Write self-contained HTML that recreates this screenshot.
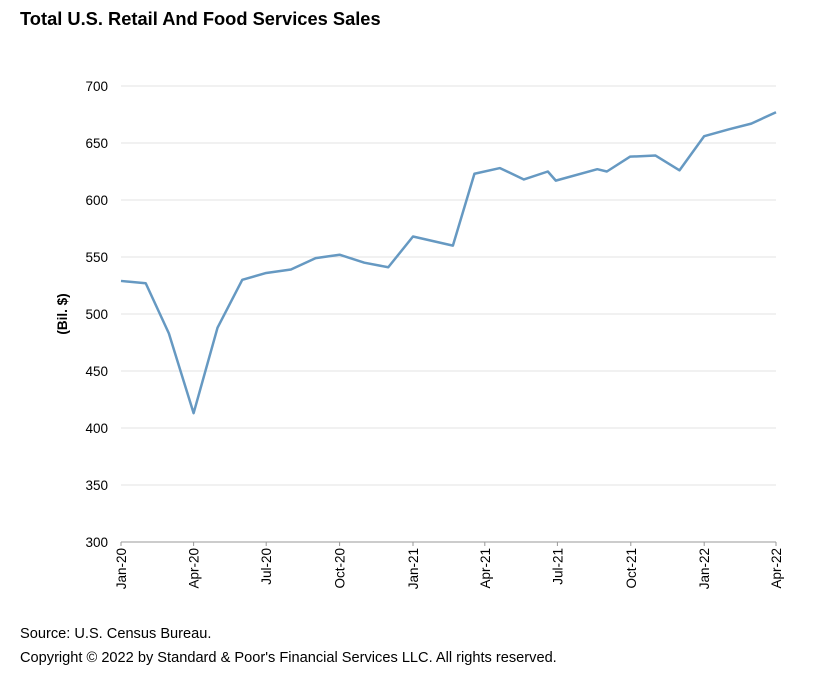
<!DOCTYPE html>
<html><head><meta charset="utf-8"><style>
body{margin:0;background:#fff;font-family:"Liberation Sans",Arial,sans-serif;}
svg{display:block}
</style></head><body>
<svg id="c" width="828" height="684">
<text x="20" y="25" font-size="18.3" font-weight="bold" fill="#000">Total U.S. Retail And Food Services Sales</text>
<text transform="translate(67,314) rotate(-90)" text-anchor="middle" font-size="13.5" font-weight="bold">(Bil. $)</text>
<g id="grid"></g><g id="ylab"></g><g id="xlab"></g><g id="series"></g>
<text x="20" y="638" font-size="14.6">Source: U.S. Census Bureau.</text>
<text x="20" y="662" font-size="14.6">Copyright © 2022 by Standard &amp; Poor's Financial Services LLC. All rights reserved.</text>
</svg>
<script>
const dates=["2020-01-01","2020-02-01","2020-03-01","2020-04-01","2020-05-01","2020-06-01","2020-07-01","2020-08-01","2020-09-01","2020-10-01","2020-11-01","2020-12-01","2021-01-01","2021-02-20","2021-03-19","2021-04-20","2021-05-20","2021-06-19","2021-06-29","2021-08-20","2021-09-01","2021-09-30","2021-11-01","2021-12-01","2022-01-01","2022-02-01","2022-03-01","2022-04-01"];
const sales=[529,527,483,413,488,530,536,539,549,552,545,541,568,560,623,628,618,625,617,627,625,638,639,626,656,662,667,677];
const yTicks=[300,350,400,450,500,550,600,650,700];
const xTickDates=["2020-01-01","2020-04-01","2020-07-01","2020-10-01","2021-01-01","2021-04-01","2021-07-01","2021-10-01","2022-01-01","2022-04-01"];
const xTickLabels=["Jan-20","Apr-20","Jul-20","Oct-20","Jan-21","Apr-21","Jul-21","Oct-21","Jan-22","Apr-22"];
const NS="http://www.w3.org/2000/svg";
const t0=Date.parse("2020-01-01"),t1=Date.parse("2022-04-01");
const X0=121,X1=776,Y0=542,Y1=86;
const xs=d=>X0+(Date.parse(d)-t0)/(t1-t0)*(X1-X0);
const ys=v=>Y0-(v-300)/400*(Y0-Y1);
function mk(tag,attrs,parent){const e=document.createElementNS(NS,tag);for(const k in attrs)e.setAttribute(k,attrs[k]);document.getElementById(parent).appendChild(e);return e;}
yTicks.forEach(v=>{
 const l=mk("line",{x1:X0,x2:X1,y1:ys(v),y2:ys(v),stroke:v===300?"#999":"#e3e3e3","stroke-width":1},"grid");
 
 
 const t=mk("text",{x:108,y:ys(v)+5,"text-anchor":"end","font-size":13.5},"ylab");
 t.textContent=v;
 
 
});
xTickDates.forEach((d,i)=>{
 const x=xs(d);
 const tk=mk("line",{x1:x,x2:x,y1:Y0,y2:Y0+4,stroke:"#999"},"grid");
 
 
 const t=mk("text",{transform:`translate(${x+5},${Y0+6}) rotate(-90)`,"text-anchor":"end","font-size":13.5},"xlab");
 t.textContent=xTickLabels[i];
 
 
});
const p=mk("polyline",{points:dates.map((d,i)=>xs(d)+","+ys(sales[i])).join(" "),fill:"none",stroke:"#6699c2","stroke-width":2.5,"stroke-linejoin":"round"},"series");


</script>
</body></html>
